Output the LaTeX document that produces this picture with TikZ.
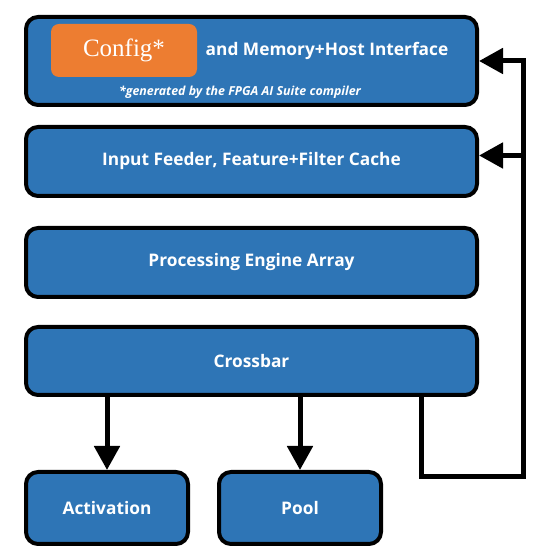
\documentclass[tikz,border=0pt]{standalone}
\usepackage{fontspec}
\setmainfont{Open Sans}
\newfontfamily\cfgfont{Liberation Serif}
\usetikzlibrary{positioning,calc,arrows.meta}
\definecolor{blockblue}{HTML}{2E75B6}
\definecolor{cfgorange}{HTML}{ED7D31}

\begin{document}
\begin{tikzpicture}[x=1pt,y=1pt,node distance=18pt,
    block/.style={draw=black,line width=4pt,fill=blockblue,rounded corners=12pt,
      text=white,font=\bfseries\fontsize{17.3}{20}\selectfont,minimum width=451pt},
    small block/.style={block,minimum width=162pt,minimum height=72pt},
    link/.style={line width=5pt,-{Triangle[length=24pt,width=25pt]}}]

    \useasboundingbox (0,0) rectangle (546,556);

    % Define blocks
    \node[block,minimum height=88pt] (mem) at (251.5,495) {};
    \node[block,minimum height=69pt] (feed) [below=18pt of mem] {Input Feeder, Feature+Filter Cache};
    \node[block,minimum height=69pt] (pe) [below=28pt of feed] {Processing Engine Array};
    \node[block,minimum height=68pt] (cb) [below=26pt of pe] {Crossbar};
    \node[small block] (act) [below=73pt of cb.south west,anchor=north west] {Activation};
    \node[small block] (pool) [right=27pt of act] {Pool};

    % Labels inside the top block
    \node[fill=cfgorange,rounded corners=8pt,minimum width=146pt,minimum height=53pt,
      text=white,font=\cfgfont\fontsize{25}{30}\selectfont] (cfg) at (124,505.5) {Config*};
    \node[text=white,font=\bfseries\fontsize{17.3}{20}\selectfont] (host) at (327,505) {and Memory+Host Interface};
    \node[text=white,font=\bfseries\itshape\fontsize{12.4}{14}\selectfont] (note) at (240,464)
      {*generated by the FPGA AI Suite compiler};

    % Draw edges
    \coordinate (ret) at (523,79);
    \draw[link] (act.north |- cb.south) -- (act.north);
    \draw[link] (pool.north |- cb.south) -- (pool.north);
    \draw[link] ($(cb.south east)+(-58,2)$) |- (ret) |- (mem.east);
    \draw[link] ($(ret |- feed.east)+(0,6)$) -- ($(feed.east)+(0,6)$);

\end{tikzpicture}
\end{document}
